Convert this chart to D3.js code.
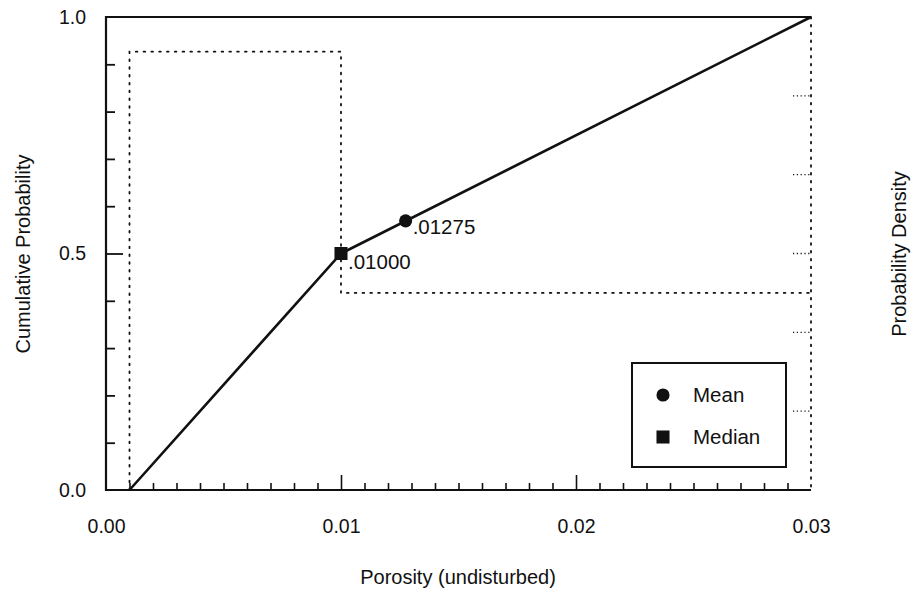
<!DOCTYPE html>
<html>
<head>
<meta charset="utf-8">
<script src="https://cdn.jsdelivr.net/npm/d3@7"></script>
<style>
  html, body { margin: 0; padding: 0; background: #fff; }
  svg { display: block; }
  text { font-family: "Liberation Sans", Arial, Helvetica, sans-serif; fill: #111; }
</style>
</head>
<body>
<svg id="chart" width="911" height="594"></svg>
<script>
// Cumulative distribution of undisturbed porosity (piecewise linear)
const cdfPorosity = [0.001, 0.01, 0.03];
const cdfProbability = [0.0, 0.5, 1.0];

// Probability density (uniform pieces between the bin edges)
const pdfEdges = [0.001, 0.01, 0.03];
const pdfDensity = [55.6, 25.0];

// Summary statistics
const statNames = ["Mean", "Median"];
const statValues = [0.01275, 0.01];
const statProbability = [0.569, 0.5];
const statLabels = [".01275", ".01000"];

// Axis ticks
const xTickLabels = [0.00, 0.01, 0.02, 0.03];
const yTickLabels = [0.0, 0.5, 1.0];
const densityTicks = [10, 20, 30, 40, 50];

const svg = d3.select("#chart");
const m = { left: 106, right: 811, top: 17, bottom: 490 };

const x = d3.scaleLinear().domain([0, 0.03]).range([m.left, m.right]);
const y = d3.scaleLinear().domain([0, 1]).range([m.bottom, m.top]);
const yd = d3.scaleLinear().domain([0, 60]).range([m.bottom, m.top]);

const dotted = "1.6,6.2";
const tickFont = 19.5;
const titleFont = 20;
const markFont = 20.5;

// Density step outline (dotted)
const pdfPts = [[pdfEdges[0], 0]];
pdfDensity.forEach((d, i) => {
  pdfPts.push([pdfEdges[i], d]);
  pdfPts.push([pdfEdges[i + 1], d]);
});
svg.append("path")
  .attr("d", d3.line().x(d => x(d[0])).y(d => yd(d[1]))(pdfPts))
  .attr("fill", "none").attr("stroke", "#111")
  .attr("stroke-width", 1.8).attr("stroke-dasharray", dotted)
  .attr("stroke-linecap", "round");

// Frame: solid top, left and bottom; dotted right (density axis)
svg.append("path")
  .attr("d", `M${m.right},${m.top}H${m.left}V${m.bottom}H${m.right}`)
  .attr("fill", "none").attr("stroke", "#111").attr("stroke-width", 2.2);
svg.append("line")
  .attr("x1", m.right).attr("x2", m.right).attr("y1", m.top).attr("y2", m.bottom)
  .attr("stroke", "#111").attr("stroke-width", 1.8)
  .attr("stroke-dasharray", dotted).attr("stroke-linecap", "round");

// Bottom axis: minor ticks every 0.001, long ticks at the hundredths
const xAxisG = svg.append("g").attr("transform", `translate(0,${m.bottom})`);
xAxisG.call(d3.axisBottom(x).tickValues(d3.range(1, 30).map(i => i / 1000))
  .tickSize(-7).tickFormat(""))
  .call(g => g.select(".domain").remove());
xAxisG.selectAll(".tick line").attr("stroke", "#111").attr("stroke-width", 1.6)
  .filter(d => Math.abs(d * 100 - Math.round(d * 100)) < 1e-9).attr("y2", -15);
svg.append("g").attr("transform", `translate(0,${m.bottom + 43})`)
  .call(d3.axisBottom(x).tickValues(xTickLabels).tickSize(0).tickFormat(d3.format(".2f")))
  .call(g => g.select(".domain").remove())
  .call(g => g.attr("font-family", null).attr("font-size", null))
  .selectAll("text").attr("font-size", tickFont).attr("y", 0).attr("dy", "0");

// Left axis: minor ticks every 0.1, long tick at 0.5
const yAxisG = svg.append("g").attr("transform", `translate(${m.left},0)`);
yAxisG.call(d3.axisLeft(y).tickValues(d3.range(1, 10).map(i => i / 10))
  .tickSize(-9).tickFormat(""))
  .call(g => g.select(".domain").remove());
yAxisG.selectAll(".tick line").attr("stroke", "#111").attr("stroke-width", 1.8)
  .filter(d => Math.abs(d - 0.5) < 1e-9).attr("x2", 17);
svg.append("g").attr("transform", `translate(${m.left - 20},0)`)
  .call(d3.axisLeft(y).tickValues(yTickLabels).tickSize(0).tickFormat(d3.format(".1f")))
  .call(g => g.select(".domain").remove())
  .call(g => g.attr("font-family", null).attr("font-size", null))
  .selectAll("text").attr("font-size", tickFont).attr("x", 0);

// Right density axis: dotted inward ticks
svg.append("g").selectAll("line").data(densityTicks).join("line")
  .attr("x1", m.right - 18).attr("x2", m.right)
  .attr("y1", d => yd(d)).attr("y2", d => yd(d))
  .attr("stroke", "#111").attr("stroke-width", 1.3)
  .attr("stroke-dasharray", "1.2,2.6");

// Cumulative curve
svg.append("path")
  .attr("d", d3.line().x(d => x(d)).y((d, i) => y(cdfProbability[i]))(cdfPorosity))
  .attr("fill", "none").attr("stroke", "#111").attr("stroke-width", 2.6)
  .attr("stroke-linejoin", "round");

// Mean and median markers with value labels
const sym = [d3.symbolCircle, d3.symbolSquare];
const symSize = [135, 170];
const labelDy = [13, 15];
statValues.forEach((v, i) => {
  svg.append("path")
    .attr("d", d3.symbol().type(sym[i]).size(symSize[i])())
    .attr("transform", `translate(${x(v)},${y(statProbability[i])})`)
    .attr("fill", "#111");
  svg.append("text")
    .attr("x", x(v) + 7).attr("y", y(statProbability[i]) + labelDy[i])
    .attr("font-size", markFont).text(statLabels[i]);
});

// Legend
const lg = svg.append("g");
lg.append("rect").attr("x", 632).attr("y", 363).attr("width", 154).attr("height", 104)
  .attr("fill", "#fff").attr("stroke", "#111").attr("stroke-width", 2);
statNames.forEach((name, i) => {
  const cy = 395 + i * 42;
  lg.append("path").attr("d", d3.symbol().type(sym[i]).size(symSize[i])())
    .attr("transform", `translate(663,${cy})`).attr("fill", "#111");
  lg.append("text").attr("x", 693).attr("y", cy + 7).attr("font-size", markFont).text(name);
});

// Axis titles
svg.append("text").attr("x", 458).attr("y", 584).attr("text-anchor", "middle")
  .attr("font-size", titleFont).text("Porosity (undisturbed)");
svg.append("text").attr("transform", "translate(30,254) rotate(-90)")
  .attr("text-anchor", "middle").attr("font-size", titleFont).text("Cumulative Probability");
svg.append("text").attr("transform", "translate(906,254) rotate(-90)")
  .attr("text-anchor", "middle").attr("font-size", titleFont).text("Probability Density");
</script>
</body>
</html>
